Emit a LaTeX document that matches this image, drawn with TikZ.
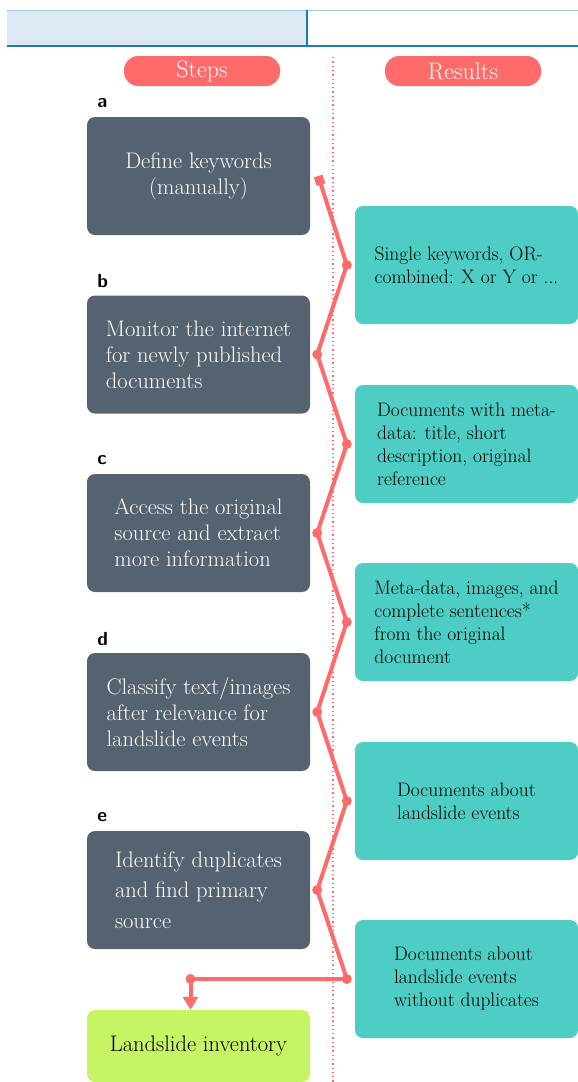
\documentclass[tikz,border=0pt]{standalone}
\usepackage{tikz}
\usetikzlibrary{calc,shapes,arrows.meta,positioning}

\definecolor{slate}{HTML}{556270}
\definecolor{teal}{HTML}{4ECDC4}
\definecolor{coral}{HTML}{FF6B6B}
\definecolor{lime}{HTML}{C7F464}
\definecolor{barblue}{HTML}{DCE9F5}
\definecolor{barline}{HTML}{1A7FA8}

\tikzset{
  stepbox/.style={fill=slate,text=white,rounded corners=8pt,minimum width=223pt,
    minimum height=118pt,align=left,font=\fontsize{22.5}{26}\selectfont},
  resbox/.style={fill=teal,text=black,rounded corners=8pt,minimum width=223pt,
    minimum height=118pt,align=left,font=\fontsize{19.5}{23}\selectfont},
  pill/.style={fill=coral,text=white,rounded corners=14pt,minimum width=156pt,
    minimum height=30pt,inner sep=0pt,font=\fontsize{24}{26}\selectfont},
  letter/.style={font=\sffamily\bfseries\fontsize{19}{20}\selectfont,anchor=west},
  zig/.style={coral,line width=4pt,line join=round},
  dot/.style={coral,fill=coral}
}

\begin{document}
\begin{tikzpicture}[x=1pt,y=-1pt]
\useasboundingbox (0,0) rectangle (578,1082);

% header bar
\fill[barblue] (7,10) rectangle (307,46);
\draw[barline!40,line width=1pt] (7,10) -- (578,10);
\draw[barline,line width=2pt] (7,46) -- (578,46);
\draw[barline,line width=2pt] (307,10) -- (307,46);
\draw[coral,line width=1.3pt,dash pattern=on 1.3pt off 3pt] (333,57) -- (333,1082);

\node[pill] (steps) at (202,71) {Steps};
\node[pill] (results) at (463,71) {Results};

% steps
\node[stepbox,align=center] (a) at (198.5,176) {Define keywords\\(manually)};
\node[stepbox] (b) at (198.5,354.5) {Monitor the internet\\for newly published\\documents};
\node[stepbox] (c) at (198.5,533) {Access the original\\source and extract\\more information};
\node[stepbox] (d) at (198.5,712) {Classify text/images\\after relevance for\\landslide events};
\node[stepbox,font=\fontsize{22.5}{30.5}\selectfont] (e) at (198.5,890) {Identify duplicates\\and find primary\\source};
\node[stepbox,fill=lime,text=black,minimum height=72pt] (inv) at (198.5,1046) {Landslide inventory};

\foreach \n in {a,b,c,d,e}
  \node[letter] at ([xshift=7pt,yshift=14pt]\n.north west) {\n};

% results
\node[resbox] (r1) at (466.5,265) {Single keywords, OR-\\combined: X or Y or ...};
\node[resbox] (r2) at (466.5,444) {Documents with meta-\\data: title, short\\description, original\\reference};
\node[resbox] (r3) at (466.5,622) {Meta-data, images, and\\complete sentences*\\from the original\\document};
\node[resbox] (r4) at (466.5,801) {Documents about\\landslide events};
\node[resbox] (r5) at (466.5,979) {Documents about\\landslide events\\without duplicates};

% zigzag
\coordinate (s0) at ([xshift=8pt]a.east);
\foreach \n in {1,...,5}
  \coordinate (p\n) at ([xshift=-8pt]r\n.west);
\foreach \n in {b,c,d,e}
  \coordinate (q\n) at ([xshift=7pt]\n.east);
\coordinate (turn) at ([xshift=-8pt]inv.north |- p5);

\draw[zig,{Square[length=9pt,width=9pt]}-] (s0) -- (p1) -- (qb) -- (p2) -- (qc) -- (p3)
  -- (qd) -- (p4) -- (qe) -- (p5) -- (turn);
\draw[zig,-{Triangle[length=13pt,width=15pt]}] (turn) -- (turn |- inv.north);
\foreach \p in {p1,p2,p3,p4,p5,qb,qc,qd,qe,turn}
  \fill[dot] (\p) circle (5pt);
\end{tikzpicture}
\end{document}
